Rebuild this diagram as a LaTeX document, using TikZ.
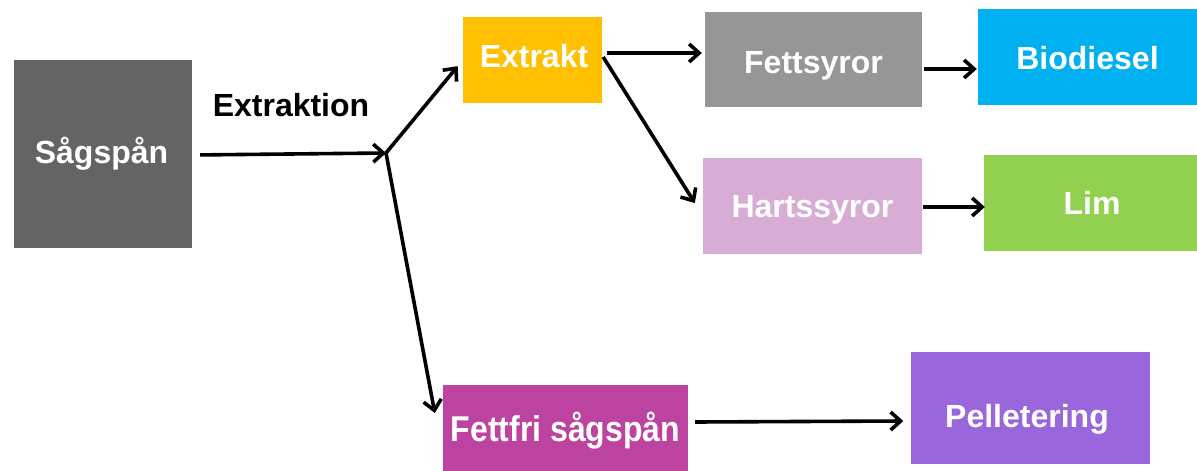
\documentclass[tikz,border=0pt]{standalone}
\usepackage{fontspec}
\setmainfont{Liberation Sans}
\usetikzlibrary{arrows.meta}
\definecolor{cSag}{HTML}{646464}
\definecolor{cExt}{HTML}{FFC000}
\definecolor{cFet}{HTML}{969696}
\definecolor{cBio}{HTML}{00B0F0}
\definecolor{cHar}{HTML}{D8ADD5}
\definecolor{cLim}{HTML}{92D050}
\definecolor{cFff}{HTML}{BD43A1}
\definecolor{cPel}{HTML}{9966DB}
\tikzset{
  box/.style={draw=none, inner sep=0pt},
  lbl/.style={font=\fontsize{32}{36}\selectfont\bfseries, text=white, text height=23pt, text depth=0pt, inner sep=0pt},
  arr/.style={line width=3.6pt, -{Straight Barb[length=10pt,width=18pt,line width=3.6pt]}}
}
\begin{document}
\begin{tikzpicture}[x=1pt,y=-1pt]
\useasboundingbox (0,0) rectangle (1197,471);
\node[box, fill=cSag, minimum width=178pt, minimum height=188pt,
  label={[lbl, shift={(-1.5pt,2pt)}]center:Sågspån}] (sag) at (103,154) {};
\node[box, fill=cExt, minimum width=139pt, minimum height=86pt,
  label={[lbl, shift={(1.5pt,4pt)}]center:Extrakt}] (ex) at (532.5,60) {};
\node[box, fill=cFet, minimum width=217pt, minimum height=95pt,
  label={[lbl, shift={(0pt,-2.5pt)}]center:Fettsyror}] (fe) at (813.5,59.5) {};
\node[box, fill=cBio, minimum width=219pt, minimum height=96pt,
  label={[lbl, shift={(0pt,-1pt)}]center:Biodiesel}] (bio) at (1087.5,57) {};
\node[box, fill=cHar, minimum width=219pt, minimum height=96pt,
  label={[lbl]center:Hartssyror}] (ha) at (812.5,206) {};
\node[box, fill=cLim, minimum width=213pt, minimum height=96pt,
  label={[lbl, shift={(1.5pt,0pt)}]center:Lim}] (lim) at (1090.5,203) {};
\node[box, fill=cFff, minimum width=245pt, minimum height=86pt,
  label={[lbl, shift={(0pt,-2pt)}]center:\scalebox{1}[1.12]{Fettfri sågspån}}] (ff) at (565.5,428) {};
\node[box, fill=cPel, minimum width=239pt, minimum height=112pt,
  label={[lbl, shift={(-3pt,-8pt)}]center:Pelletering}] (pel) at (1030,408) {};
\node[lbl, text=black] (extr) at (291,105) {Extraktion};
\coordinate (br) at (386,153);
\draw[arr, shorten <=8pt] ([yshift=-1pt]sag.east) -- (br);
\draw[arr, shorten >=8pt] (br) -- (ex.west);
\draw[arr] (br) -- ([shift={(-8pt,15pt)}]ff.west);
\draw[arr] ([shift={(5pt,7pt)}]ex.east) -- ([shift={(-3pt,6.5pt)}]fe.west);
\draw[arr] ([shift={(1pt,3pt)}]ex.east) -- ([shift={(-8pt,3pt)}]ha.west);
\draw[arr] ([shift={(2pt,-9.5pt)}]fe.east) -- ([shift={(-1pt,-12pt)}]bio.west);
\draw[arr] ([shift={(1pt,-1pt)}]ha.east) -- ([shift={(1pt,-4pt)}]lim.west);
\draw[arr] ([shift={(7pt,6pt)}]ff.east) -- ([shift={(-7pt,-13pt)}]pel.west);
\end{tikzpicture}
\end{document}
